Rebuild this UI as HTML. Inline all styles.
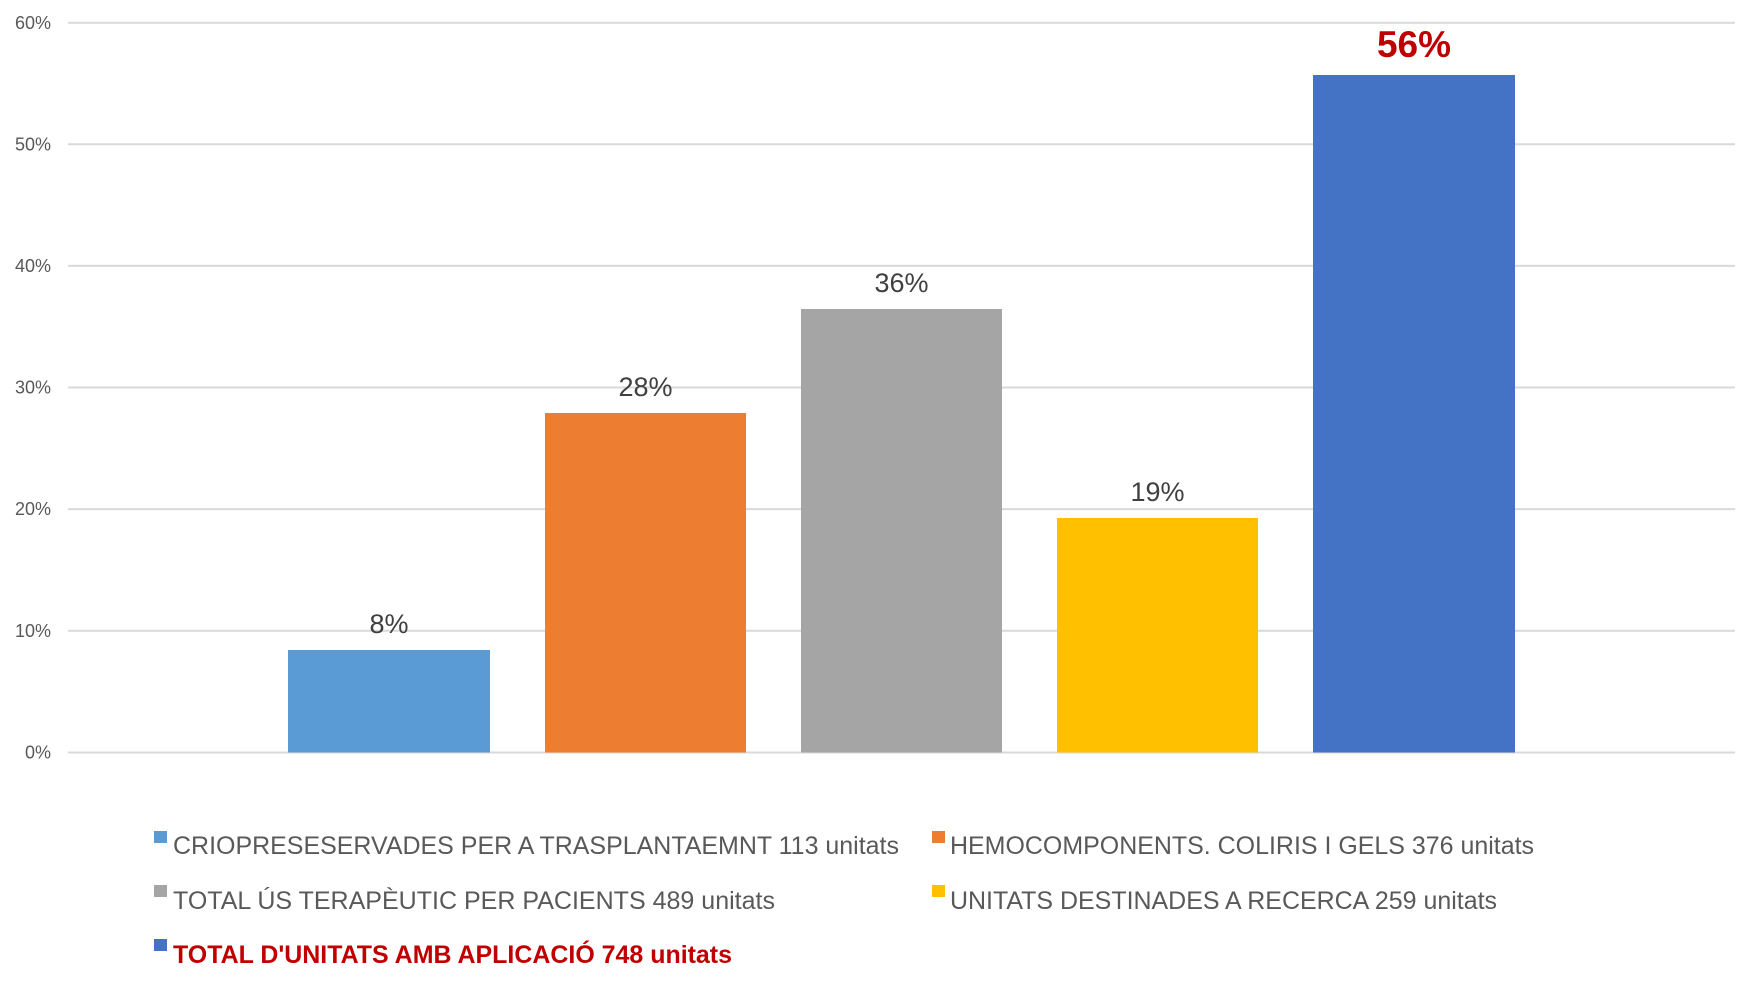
<!DOCTYPE html>
<html><head><meta charset="utf-8"><style>
html,body{margin:0;padding:0;background:#fff;}
svg{display:block;font-family:"Liberation Sans",Arial,sans-serif;}
</style></head><body>
<svg width="1758" height="997" viewBox="0 0 1758 997" xmlns="http://www.w3.org/2000/svg">
<g stroke="#d9d9d9" stroke-width="2">
<line x1="68" x2="1735" y1="22.7" y2="22.7"/>
<line x1="68" x2="1735" y1="144.3" y2="144.3"/>
<line x1="68" x2="1735" y1="265.9" y2="265.9"/>
<line x1="68" x2="1735" y1="387.5" y2="387.5"/>
<line x1="68" x2="1735" y1="509.1" y2="509.1"/>
<line x1="68" x2="1735" y1="630.7" y2="630.7"/>
<line x1="68" x2="1735" y1="752.5" y2="752.5"/>
</g>
<g fill="#595959" font-size="18" text-anchor="end">
<text x="51" y="29">60%</text>
<text x="51" y="150.5">50%</text>
<text x="51" y="272">40%</text>
<text x="51" y="393.5">30%</text>
<text x="51" y="515">20%</text>
<text x="51" y="637">10%</text>
<text x="51" y="758.5">0%</text>
</g>
<rect x="288" y="650" width="202" height="102.5" fill="#5b9bd5"/>
<rect x="545" y="413" width="201" height="339.5" fill="#ed7d31"/>
<rect x="801" y="309" width="201" height="443.5" fill="#a5a5a5"/>
<rect x="1057" y="518" width="201" height="234.5" fill="#ffc000"/>
<rect x="1313" y="75" width="202" height="677.5" fill="#4472c4"/>
<g fill="#404040" font-size="27" text-anchor="middle">
<text x="389" y="633">8%</text>
<text x="645.5" y="396">28%</text>
<text x="901.5" y="292">36%</text>
<text x="1157.5" y="501">19%</text>
</g>
<text x="1414" y="57" fill="#c00000" font-size="37" font-weight="bold" text-anchor="middle">56%</text>
<rect x="154" y="831" width="13" height="12" fill="#5b9bd5"/>
<rect x="932" y="831" width="13" height="12" fill="#ed7d31"/>
<rect x="154" y="885" width="13" height="12" fill="#a5a5a5"/>
<rect x="932" y="885" width="13" height="12" fill="#ffc000"/>
<rect x="154" y="939" width="13" height="12" fill="#4472c4"/>
<g fill="#595959" font-size="25">
<text x="173" y="854" textLength="726" lengthAdjust="spacingAndGlyphs">CRIOPRESESERVADES PER A TRASPLANTAEMNT 113 unitats</text>
<text x="950" y="854" textLength="584" lengthAdjust="spacingAndGlyphs">HEMOCOMPONENTS. COLIRIS I GELS 376 unitats</text>
<text x="173" y="909" textLength="602" lengthAdjust="spacingAndGlyphs">TOTAL ÚS TERAPÈUTIC PER PACIENTS 489 unitats</text>
<text x="950" y="909" textLength="547" lengthAdjust="spacingAndGlyphs">UNITATS DESTINADES A RECERCA 259 unitats</text>
</g>
<text x="173" y="963" fill="#c00000" font-size="25" font-weight="bold" textLength="559" lengthAdjust="spacingAndGlyphs">TOTAL D'UNITATS AMB APLICACIÓ 748 unitats</text>
</svg>
</body></html>
